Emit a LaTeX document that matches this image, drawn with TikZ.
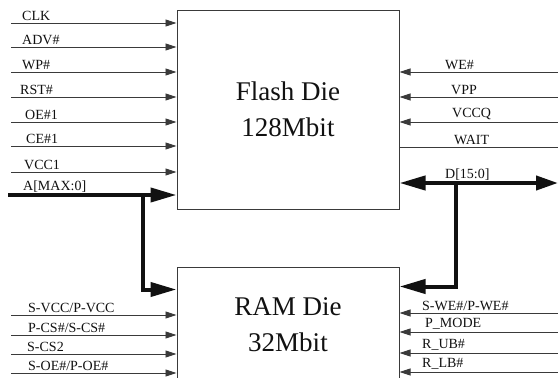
\documentclass[tikz,border=0pt]{standalone}
\usepackage{fontspec}
\setmainfont{Liberation Serif}
\usetikzlibrary{positioning,arrows.meta,calc}
\definecolor{ink}  {HTML}{111111}
\definecolor{wire} {HTML}{3A3A3A}
\tikzset{
  % --- nodes
  die/.style    = {draw=wire, line width=1pt, fill=white, align=center,
                   font=\fontsize{27}{36}\selectfont, text=ink},
  pin/.style    = {font=\fontsize{14}{14}\selectfont, text=ink, anchor=south west,
                   inner sep=0pt},
  % --- edges
  sig/.style    = {-{Triangle[length=11pt,width=7pt]}, draw=wire, line width=0.9pt},
  bare/.style   = {draw=wire, line width=0.9pt},
  bus/.style    = {draw=ink, line width=4pt},
  bustip/.style = {bus, -{Triangle[length=26pt,width=14pt]}},
  busboth/.style= {bus, {Triangle[length=26pt,width=14pt]}-{Triangle[length=22pt,width=14pt]}},
}
\begin{document}
\begin{tikzpicture}[x=1pt,y=-1pt]
  \useasboundingbox (0,0) rectangle (558,378);
  \clip (0,0) rectangle (558,378);

  \node[die, minimum width=222pt, minimum height=199pt] (flash) at (288,109.5)
       {Flash Die\\128Mbit};
  \node[die, minimum width=222pt, minimum height=116pt] (ram) at (288,325)
       {RAM Die\\32Mbit};

  % flash inputs, left
  \foreach \y/\x/\t [count=\i] in {23/22/CLK, 47/22/ADV\#, 72/22/WP\#, 97/20/RST\#,
                                   122/25/OE\#1, 146/26/CE\#1, 172/24/VCC1} {
    \coordinate (fl\i) at (11,\y);
    \node[pin] (fln\i) at (\x,\y-2) {\t};
    \draw[sig] (fl\i) -- (fl\i -| flash.west);
  }
  % ram inputs, left
  \foreach \y/\x/\t [count=\i] in {315/28/{S-VCC/P-VCC}, 335/28/{P-CS\#/S-CS\#},
                                   354/27/S-CS2, 373/28/{S-OE\#/P-OE\#}} {
    \coordinate (rl\i) at (11,\y);
    \node[pin] (rln\i) at (\x,\y-2) {\t};
    \draw[sig] (rl\i) -- (rl\i -| ram.west);
  }
  % flash inputs, right
  \foreach \y/\x/\t [count=\i] in {72/445/WE\#, 97/451/VPP, 122/452/VCCQ} {
    \coordinate (fr\i) at (558,\y);
    \node[pin] (frn\i) at (\x,\y-2) {\t};
    \draw[sig] (fr\i) -- (fr\i -| flash.east);
  }
  \coordinate (wait) at (558,147);
  \node[pin] (waitn) at (454,145) {WAIT};
  \draw[bare] (wait) -- (wait -| flash.east);
  % ram inputs, right
  \foreach \y/\x/\t [count=\i] in {313/422/{S-WE\#/P-WE\#}, 332/425/P\_MODE,
                                   353/422/R\_UB\#, 372/422/R\_LB\#} {
    \coordinate (rr\i) at (558,\y);
    \node[pin] (rrn\i) at (\x,\y-2) {\t};
    \draw[sig] (rr\i) -- (rr\i -| ram.east);
  }

  % address bus
  \coordinate (aIn) at (8,195);
  \coordinate (aTap) at (143,195);
  \node[pin] (an) at (23,193) {A[MAX:0]};
  \draw[bustip] (aIn) -- (aIn -| flash.west);
  \draw[bustip] (aTap) |- ($(ram.north west)+(0,23)$);

  % data bus
  \coordinate (dOut) at (558,183);
  \coordinate (dTap) at (456,183);
  \node[pin] (dn) at (445,181) {D[15:0]};
  \draw[busboth] (dOut -| flash.east) -- (dOut);
  \draw[bustip] (dTap) |- ($(ram.north east)+(0,20)$);
\end{tikzpicture}
\end{document}
